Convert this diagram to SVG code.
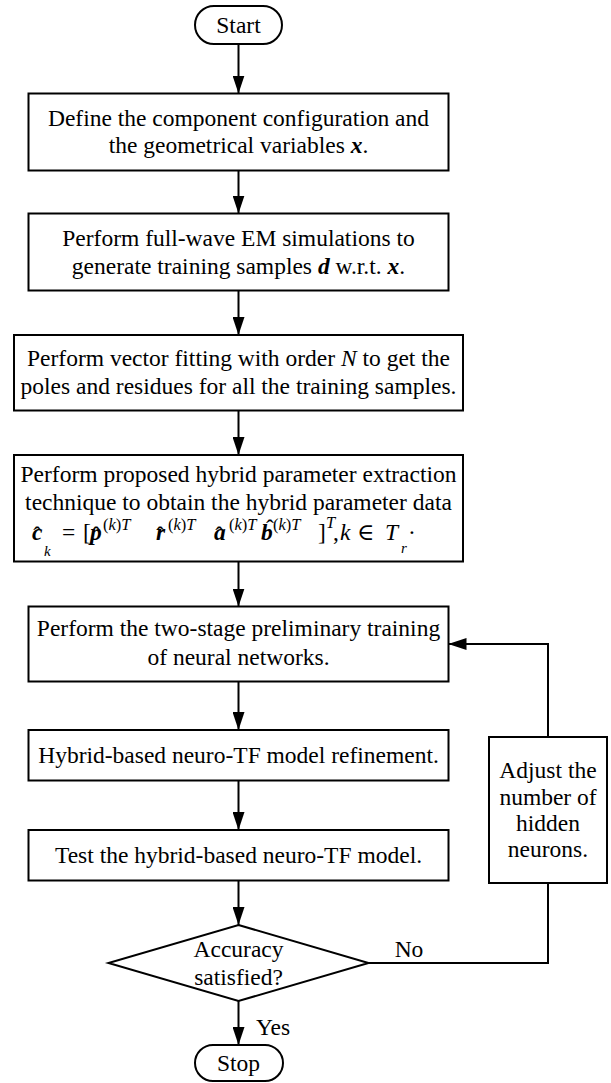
<svg xmlns="http://www.w3.org/2000/svg" width="611" height="1083" viewBox="0 0 611 1083">
  <style>
    .box { fill: #fff; stroke: #000; stroke-width: 2; }
    .t { font-family: "Liberation Serif", "Times New Roman", serif; font-size: 23.5px; text-anchor: middle; fill: #000; }
    .m { font-family: "Liberation Serif", "DejaVu Serif", serif; font-size: 23.5px; fill: #000; }
    .sup { font-size: 16.5px; }
    .sub { font-size: 15px; }
    .bi { font-weight: bold; font-style: italic; }
    .it { font-style: italic; }
    .conn { fill: none; stroke: #000; stroke-width: 2; }
  </style>
  <defs>
    <marker id="arrow" markerUnits="userSpaceOnUse" markerWidth="18" markerHeight="12" refX="18" refY="6" orient="auto">
      <path d="M0,0 L18,6 L0,12 Z" fill="#000"/>
    </marker>
  </defs>

  <!-- connectors -->
  <g id="connectors">
    <line class="conn" x1="238.5" y1="44" x2="238.5" y2="93.5" marker-end="url(#arrow)"/>
    <line class="conn" x1="238.5" y1="170.5" x2="238.5" y2="213.5" marker-end="url(#arrow)"/>
    <line class="conn" x1="238.5" y1="290.5" x2="238.5" y2="335" marker-end="url(#arrow)"/>
    <line class="conn" x1="238.5" y1="410.5" x2="238.5" y2="455" marker-end="url(#arrow)"/>
    <line class="conn" x1="238.5" y1="561.5" x2="238.5" y2="606.5" marker-end="url(#arrow)"/>
    <line class="conn" x1="238.5" y1="681.5" x2="238.5" y2="730" marker-end="url(#arrow)"/>
    <line class="conn" x1="238.5" y1="780.5" x2="238.5" y2="830" marker-end="url(#arrow)"/>
    <line class="conn" x1="238.5" y1="880.5" x2="238.5" y2="925" marker-end="url(#arrow)"/>
    <line class="conn" x1="238.5" y1="1001" x2="238.5" y2="1045" marker-end="url(#arrow)"/>
    <polyline class="conn" points="368.5,963 548,963 548,883"/>
    <polyline class="conn" points="548,737 548,644 448.5,644" marker-end="url(#arrow)"/>
    <text class="t" x="409" y="957">No</text>
    <text class="t" x="273" y="1035">Yes</text>
  </g>

  <g id="start">
    <rect class="box" x="195" y="6" width="87" height="38" rx="19"/>
    <text class="t" x="238.5" y="33">Start</text>
  </g>

  <g id="define">
    <rect class="box" x="28.5" y="93.5" width="420" height="77"/>
    <text class="t" x="238.5" y="125.5">Define the component configuration and</text>
    <text class="t" x="238.5" y="153">the geometrical variables <tspan class="bi">x</tspan>.</text>
  </g>

  <g id="simulate">
    <rect class="box" x="28.5" y="213.5" width="420" height="77"/>
    <text class="t" x="238.5" y="245.5">Perform full-wave EM simulations to</text>
    <text class="t" x="238.5" y="273.5">generate training samples <tspan class="bi">d</tspan> w.r.t. <tspan class="bi">x</tspan>.</text>
  </g>

  <g id="vector-fitting">
    <rect class="box" x="14" y="335" width="449" height="75.5"/>
    <text class="t" x="238.5" y="366">Perform vector fitting with order <tspan class="it">N</tspan> to get the</text>
    <text class="t" x="238.5" y="394">poles and residues for all the training samples.</text>
  </g>

  <g id="extraction">
    <rect class="box" x="14" y="455" width="449" height="106.5"/>
    <text class="t" x="238.5" y="481.5">Perform proposed hybrid parameter extraction</text>
    <text class="t" x="238.5" y="510">technique to obtain the hybrid parameter data</text>
    <!-- hybrid parameter vector c_k -->
    <text class="m" y="540">
      <tspan class="bi" x="32">c</tspan>
      <tspan class="it sub" x="44" y="556">k</tspan>
      <tspan x="62" y="540">=</tspan>
      <tspan x="83">[</tspan>
      <tspan class="bi" x="90">p</tspan>
      <tspan class="sup" x="103" y="530">(<tspan class="it">k</tspan>)<tspan class="it">T</tspan></tspan>
      <tspan class="bi" x="156" y="540">r</tspan>
      <tspan class="sup" x="168" y="530">(<tspan class="it">k</tspan>)<tspan class="it">T</tspan></tspan>
      <tspan class="bi" x="214" y="540">a</tspan>
      <tspan class="sup" x="229" y="530">(<tspan class="it">k</tspan>)<tspan class="it">T</tspan></tspan>
      <tspan class="bi" x="261" y="540">b</tspan>
      <tspan class="sup" x="273" y="530">(<tspan class="it">k</tspan>)<tspan class="it">T</tspan></tspan>
      <tspan x="318" y="540">]</tspan>
      <tspan class="it sup" x="326" y="528">T</tspan>
      <tspan x="333" y="540">,</tspan>
      <tspan class="it" x="340">k</tspan>
      <tspan x="357">∈</tspan>
      <tspan class="it" x="385">T</tspan>
      <tspan class="it sub" x="401" y="553">r</tspan>
      <tspan x="408" y="540">·</tspan>
    </text>
    <!-- hat accents over the vectors -->
    <text class="m" y="543" text-anchor="middle">
      <tspan x="40">ˆ</tspan>
      <tspan x="99">ˆ</tspan>
      <tspan x="163">ˆ</tspan>
      <tspan x="222">ˆ</tspan>
      <tspan x="270" y="536">ˆ</tspan>
    </text>
  </g>

  <g id="preliminary-training">
    <rect class="box" x="28.5" y="606.5" width="420" height="75"/>
    <text class="t" x="238.5" y="636">Perform the two-stage preliminary training</text>
    <text class="t" x="238.5" y="664.5">of neural networks.</text>
  </g>

  <g id="refinement">
    <rect class="box" x="28.5" y="730" width="420" height="50.5"/>
    <text class="t" x="238.5" y="763">Hybrid-based neuro-TF model refinement.</text>
  </g>

  <g id="test">
    <rect class="box" x="28.5" y="830" width="420" height="50.5"/>
    <text class="t" x="238.5" y="863">Test the hybrid-based neuro-TF model.</text>
  </g>

  <g id="decision">
    <polygon class="box" points="238.5,925 368.5,963 238.5,1001 108.5,963"/>
    <text class="t" x="238.5" y="957">Accuracy</text>
    <text class="t" x="238.5" y="985">satisfied?</text>
  </g>

  <g id="adjust">
    <rect class="box" x="489" y="737" width="118" height="146"/>
    <text class="t" x="548" y="778">Adjust the</text>
    <text class="t" x="548" y="804.5">number of</text>
    <text class="t" x="548" y="831">hidden</text>
    <text class="t" x="548" y="857">neurons.</text>
  </g>

  <g id="stop">
    <rect class="box" x="195" y="1045" width="88" height="36" rx="18"/>
    <text class="t" x="238.5" y="1071">Stop</text>
  </g>
</svg>
